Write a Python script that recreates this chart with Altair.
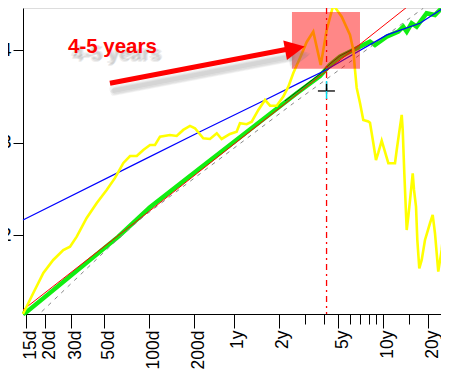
import altair as alt
import pandas as pd

# ---- data (x in days, y in value units) ----
yellow_days = [14.25, 16.7, 19.5, 22.7, 26.5, 29.4, 32.6, 38.0, 44.4, 51.7, 58.8, 66.9, 74.1, 82.2,
               90.9, 100.8, 108.9, 117.6, 137.1, 152, 168.3, 186.6, 201.5, 229, 254, 282, 304, 345.6,
               383, 403, 447, 483, 535, 593, 641, 710, 786, 849, 917, 1016, 1127, 1247, 1399, 1533,
               1698, 1932, 2196, 2310, 2371, 2434, 2561, 2694, 2910, 2987, 3064, 3142, 3276, 3393,
               3578, 3963, 4392, 4509, 4744, 4870, 4946, 5069, 5260, 5391, 5594, 5770, 5886, 6071,
               6194, 6385, 6626, 6971, 7527, 7847, 8130, 8552, 9013, 9339]
yellow_vals = [1.151, 1.378, 1.595, 1.735, 1.843, 1.879, 1.987, 2.189, 2.351, 2.492, 2.622, 2.784, 2.859, 2.859,
               2.924, 2.978, 2.978, 3.068, 3.086, 3.076, 3.141, 3.184, 3.159, 3.051, 3.043, 3.105, 3.043, 3.097,
               3.122, 3.213, 3.202, 3.230, 3.357, 3.465, 3.403, 3.403, 3.501, 3.609, 3.757, 3.919, 4.092, 4.203,
               3.843, 4.222, 4.492, 4.365, 4.168, 4.005, 3.789, 3.595, 3.432, 3.249, 3.232, 3.219, 3.111, 3.003,
               2.816, 2.892, 3.025, 2.781, 2.781, 2.924, 3.176, 3.303, 3.141, 2.672, 2.059, 2.203, 2.456, 2.672,
               2.492, 2.311, 1.951, 1.645, 1.735, 1.951, 2.132, 2.222, 2.024, 1.609, 1.843, 2.103]

green_days = [14.25, 15.08, 61.9, 100.8, 217.7, 966, 1382, 1612, 1880, 2310, 2987, 3224, 3860, 4615,
              4986, 5260, 5673, 6126, 6626, 7147, 8130, 9013, 9735]
green_vals = [1.151, 1.173, 1.987, 2.305, 2.726, 3.537, 3.724, 3.843, 3.933, 4.005, 4.095, 4.059, 4.149, 4.203,
              4.257, 4.203, 4.294, 4.257, 4.330, 4.402, 4.384, 4.456, 4.492]

black_days = [806, 966, 1382, 1612, 1880, 2310]
black_vals = [3.454, 3.551, 3.746, 3.854, 3.941, 4.016]

red_days = [14.25, 100.8, 5260]
red_vals = [1.195, 2.268, 4.467]

gray_days = [19.0, 57.3, 90.9, 917, 1612, 6783]
gray_vals = [1.176, 1.916, 2.203, 3.429, 3.717, 4.456]

blue_days = [14.25, 86.4, 217.7, 593, 1016, 1516, 3879, 6445, 9921]
blue_vals = [2.168, 2.798, 3.122, 3.465, 3.652, 3.789, 4.168, 4.294, 4.492]

marker_day = 1530
band_days = [898, 2561]
band_vals = [3.803, 4.416]
cross_h_days = [1339, 1741]
cross_h_val = 3.562
cross_v_vals = [3.476, 3.670]
cross_vb_vals = [3.562, 3.638]

arrow_days = [54.4, 818]
arrow_vals = [3.645, 4.011]
arrow_head_day = 940
arrow_head_val = 4.022
label_day = 28.5
label_val = 3.973
label_text = "4-5 years"

tick_days = [15, 20, 30, 50, 100, 200, 365.25, 730.5, 1826.25, 3652.5, 7305]
tick_labels = ["15d", "20d", "30d", "50d", "100d", "200d", "1y", "2y", "5y", "10y", "20y"]
minor_days = [1096, 1461, 2191, 2557, 2922, 3287, 5479]
y_ticks = [2, 3, 4]

# ---- scales / axes ----
x_scale = alt.Scale(type="log", domain=[14.25, 8920], nice=False)
y_scale = alt.Scale(domain=[1.151, 4.459], nice=False, zero=False)

label_expr = " : ".join(
    f"datum.value == {d} ? '{l}'" for d, l in zip(tick_days, tick_labels)
) + " : ''"
minor_test = "indexof([" + ",".join(str(m) for m in minor_days) + "], datum.value) >= 0"

x_axis = alt.Axis(
    values=tick_days + minor_days, labelExpr=label_expr, labelAngle=270,
    labelFont="Liberation Sans", labelFontSize=17.5, labelColor="black",
    labelPadding=2, labelOffset=4, labelFlush=False, labelOverlap=False, labelBound=False,
    tickSize={"condition": {"test": minor_test, "value": 10}, "value": 14},
    tickColor="black", tickWidth=1, domainColor="black", domainWidth=1,
    grid=False, title=None,
)
y_axis = alt.Axis(
    values=y_ticks, format="d", labelFont="Liberation Sans", labelFontSize=18,
    labelColor="black", labelPadding=2, tickSize=10, tickColor="black",
    domainColor="black", domainWidth=1, grid=False, title=None,
)


def X(field="d"):
    return alt.X(f"{field}:Q", scale=x_scale, axis=x_axis)


def Y(field="v"):
    return alt.Y(f"{field}:Q", scale=y_scale, axis=y_axis)


def df(days, vals):
    return pd.DataFrame({"d": days, "v": vals, "i": list(range(len(days)))})


def line(days, vals, color, width, dash=None, **kw):
    props = dict(color=color, strokeWidth=width, clip=False)
    if dash:
        props["strokeDash"] = dash
    props.update(kw)
    return alt.Chart(df(days, vals)).mark_line(**props).encode(x=X(), y=Y(), order="i:Q")


green = line(green_days, green_vals, "#11EE11", 4.5)
black = line(black_days, black_vals, "#0A400A", 1)
red = line(red_days, red_vals, "#FF0000", 1)
gray = line(gray_days, gray_vals, "#888888", 1, dash=[4, 5])
blue = line(blue_days, blue_vals, "#0000FF", 1.2)
yellow = line(yellow_days, yellow_vals, "#FFFF00", 2.6)

vrule = alt.Chart(pd.DataFrame({"d": [marker_day]})).mark_rule(
    color="#FF0000", strokeWidth=1.3, strokeDash=[6, 4, 2, 4]
).encode(x=X())

band = alt.Chart(pd.DataFrame({"d": [band_days[0]], "d2": [band_days[1]],
                               "v": [band_vals[0]], "v2": [band_vals[1]]})).mark_rect(
    color="#FF0000", opacity=0.47
).encode(x=X(), x2="d2:Q", y=Y(), y2="v2:Q")

cross_h = alt.Chart(pd.DataFrame({"d": [cross_h_days[0]], "d2": [cross_h_days[1]], "v": [cross_h_val]})).mark_rule(
    color="black", strokeWidth=1.3
).encode(x=X(), x2="d2:Q", y=Y())
cross_v = alt.Chart(pd.DataFrame({"d": [marker_day], "v": [cross_v_vals[0]], "v2": [cross_v_vals[1]]})).mark_rule(
    color="#00DDEE", strokeWidth=1.5
).encode(x=X(), y=Y(), y2="v2:Q")
cross_vb = alt.Chart(pd.DataFrame({"d": [marker_day], "v": [cross_vb_vals[0]], "v2": [cross_vb_vals[1]]})).mark_rule(
    color="black", strokeWidth=1.5
).encode(x=X(), y=Y(), y2="v2:Q")

arrow_df = df(arrow_days, arrow_vals)
head_df = pd.DataFrame({"d": [arrow_head_day], "v": [arrow_head_val]})
head_shape = "M-1,-1L1,0L-1,1Z"

shadow_offsets = [(3, 6), (5, 8), (4, 9), (6, 7)]

shadow_layers = []
for ox, oy in shadow_offsets:
    shadow_layers.append(alt.Chart(arrow_df).mark_line(
        color="#777777", opacity=0.09, strokeWidth=7, xOffset=ox, yOffset=oy, strokeCap="round"
    ).encode(x=X(), y=Y(), order="i:Q"))
    shadow_layers.append(alt.Chart(head_df).mark_point(
        shape=head_shape, size=400, filled=True, color="#777777", opacity=0.09,
        angle=349.4, xOffset=ox, yOffset=oy, strokeWidth=0
    ).encode(x=X(), y=Y()))

label_df = pd.DataFrame({"d": [label_day], "v": [label_val], "t": [label_text]})
for ox, oy in shadow_offsets:
    shadow_layers.append(alt.Chart(label_df).mark_text(
        align="left", baseline="alphabetic", font="Liberation Sans", fontSize=20.5, fontWeight="bold",
        color="#777777", opacity=0.12, dx=ox, dy=oy
    ).encode(x=X(), y=Y(), text="t:N"))

arrow = alt.Chart(arrow_df).mark_line(color="#FF0000", strokeWidth=5).encode(x=X(), y=Y(), order="i:Q")
head = alt.Chart(head_df).mark_point(
    shape=head_shape, size=400, filled=True, color="#FF0000", opacity=1, angle=349.4, strokeWidth=0
).encode(x=X(), y=Y())
text = alt.Chart(label_df).mark_text(
    align="left", baseline="alphabetic", font="Liberation Sans", fontSize=20.5, fontWeight="bold",
    color="#FF0000"
).encode(x=X(), y=Y(), text="t:N")

chart = alt.layer(
    green, black, red, gray, blue, yellow, vrule, band, cross_h, cross_v, cross_vb,
    *shadow_layers, arrow, head, text
).properties(
    width=418, height=306,
    autosize=alt.AutoSizeParams(type="none"),
    padding={"left": 15, "top": 0, "right": 0, "bottom": 56},
).configure_view(stroke=None).configure(background="white")

chart.save("out.html", embed_options={"renderer": "svg", "actions": False})
